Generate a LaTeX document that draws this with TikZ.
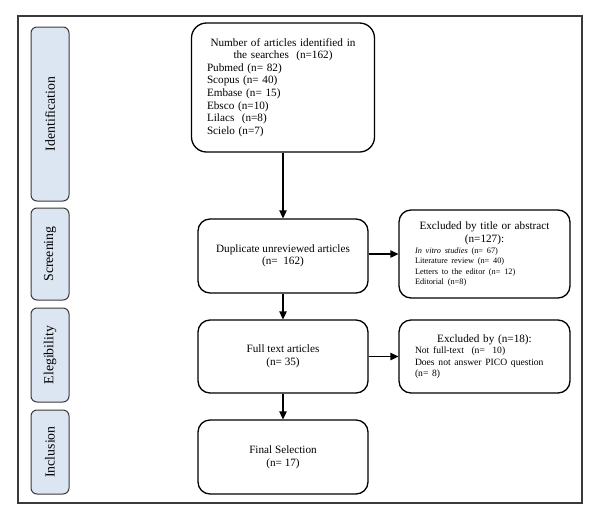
\documentclass[tikz,border=0pt]{standalone}
\usepackage{fontspec}
\setmainfont{Liberation Serif}
\usetikzlibrary{arrows.meta}
\definecolor{labfill}{HTML}{DCE6F2}
\definecolor{labline}{HTML}{3A3A3A}
\begin{document}
\begin{tikzpicture}[x=1pt,y=-1pt,
  box/.style={draw=black, line width=1.3pt, rounded corners=12pt, inner sep=0pt},
  lab/.style={draw=labline, fill=labfill, line width=1pt, rounded corners=6pt, inner sep=0pt, minimum height=38pt, rotate=90, font=\fontsize{13.8}{15}\selectfont},
  arr/.style={-{Triangle[length=8pt,width=7.5pt]}, line width=1.3pt},
  main/.style={font=\fontsize{11.2}{12.6}\selectfont}
]
\useasboundingbox (0,0) rectangle (600,520);
% outer frame
\node[draw=labline, line width=1.3pt, minimum width=564pt, minimum height=487pt, inner sep=0pt] (frame) at (300,259.5) {};
% phase labels
\node[lab, minimum width=174pt] (lid) at (50,114) {Identification};
\node[lab, minimum width=92pt] (lscr) at (50,254) {Screening};
\node[lab, minimum width=94pt] (lel) at (50,355) {Elegibility};
\node[lab, minimum width=84pt] (lin) at (50,452) {Inclusion};
% main boxes
\node[box, main, rounded corners=15pt, minimum width=183pt, minimum height=129pt, text width=152pt, align=left] (ident) at (283,87.5)
 {{\centering Number of articles identified in\\the searches\ \ (n=162)\par}
  Pubmed (n= 82)\\Scopus (n= 40)\\Embase (n= 15)\\Ebsco (n=10)\\Lilacs\ \ (n=8)\\Scielo (n=7)\par\vspace{6pt}};
\node[box, main, minimum width=170pt, minimum height=74pt, align=center] (dup) at (283,256) {Duplicate unreviewed articles\\(n=\ \ 162)};
\node[box, main, minimum width=170pt, minimum height=73pt, align=center] (full) at (283,356.5) {Full text articles\\(n= 35)};
\node[box, main, minimum width=170pt, minimum height=74pt, align=center] (final) at (283,457) {Final Selection\\(n= 17)};
% exclusion boxes
\node[box, main, minimum width=171pt, minimum height=88pt, text width=139pt, align=left] (ex1) at (484.5,254)
 {{\centering Excluded by title or abstract\\(n=127):\par}\vspace{1pt}
  {\fontsize{8.3}{10.3}\selectfont\textit{In vitro studies} (n= 67)\\Literature review (n= 40)\\Letters to the editor (n= 12)\\Editorial (n=8)\par}};
\node[box, main, minimum width=171pt, minimum height=73pt, text width=139pt, align=left] (ex2) at (484.5,356.5)
 {{\centering Excluded by (n=18):\par}
  {\fontsize{9.6}{11.5}\selectfont Not full-text\ \ (n=\ \ 10)\\Does not answer PICO question\\(n= 8)\par}};
% connectors
\draw[arr] (ident.south) -- (dup.north);
\draw[arr] (dup.south) -- (full.north);
\draw[arr] (full.south) -- (final.north);
\draw[arr] ([yshift=2pt]dup.east) -- ([yshift=2pt]dup.east -| ex1.west);
\draw[arr] (full.east) -- (full.east -| ex2.west);
\end{tikzpicture}
\end{document}
